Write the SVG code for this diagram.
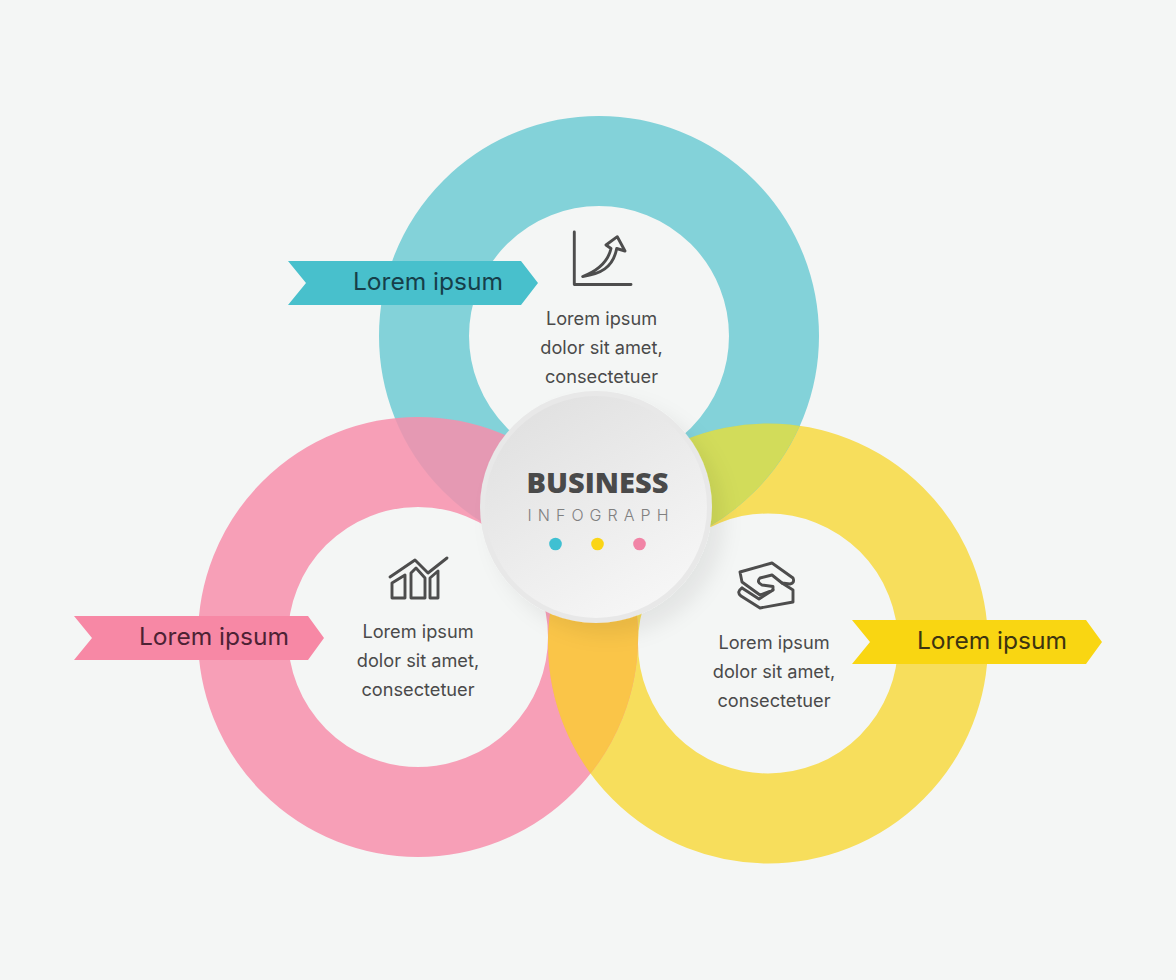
<svg xmlns="http://www.w3.org/2000/svg" width="1176" height="980" viewBox="0 0 1176 980">
<style>
.ring{fill:none;stroke-width:90}
.label{font-family:"Inter","Liberation Sans",sans-serif;font-size:24px;font-weight:400;text-anchor:middle}
.body{font-family:"Inter","Liberation Sans",sans-serif;font-size:18.2px;fill:#4a4a4a;text-anchor:middle}
.icon{fill:none;stroke:#4d4d4d;stroke-width:2.9;stroke-linejoin:round;stroke-linecap:round}
</style>
<defs>
<linearGradient id="disc" x1="0.2" y1="0.05" x2="0.75" y2="0.95">
<stop offset="0" stop-color="#e1e1e1"/><stop offset="1" stop-color="#f6f6f6"/>
</linearGradient>
<filter id="shadow" x="-20%" y="-20%" width="150%" height="150%">
<feDropShadow dx="12" dy="12" stdDeviation="10" flood-color="#000" flood-opacity="0.07"/>
</filter>
<clipPath id="clip-yellow"><path clip-rule="evenodd" d="M548,643.500a220,220 0 1,0 440,0a220,220 0 1,0 -440,0ZM638,643.500a130,130 0 1,0 260,0a130,130 0 1,0 -260,0Z"/></clipPath>
</defs>
<rect width="1176" height="980" fill="#f4f6f5"/>
<g id="rings">
<circle id="ring-yellow" class="ring" cx="768" cy="643.500" r="175" stroke="#f7de5c"/>
<circle id="ring-teal" class="ring" cx="599" cy="336" r="175" stroke="#6fcbd4" stroke-opacity="0.85"/>
<circle id="ring-pink" class="ring" cx="418" cy="637" r="175" stroke="#f78fab" stroke-opacity="0.85"/>
<circle id="overlap-teal-yellow" class="ring" cx="599" cy="336" r="175" stroke="#d2dc5a" clip-path="url(#clip-yellow)"/>
<circle id="overlap-pink-yellow" class="ring" cx="418" cy="637" r="175" stroke="#fac548" clip-path="url(#clip-yellow)"/>
</g>
<g id="connectors"/>
<g id="center" filter="url(#shadow)">
<circle cx="596" cy="507" r="116" fill="#e8e8e8"/>
<circle cx="596" cy="507" r="111" fill="url(#disc)"/>
</g>
<g id="center-text">
<text x="597.5" y="493" font-family="'Open Sans','Liberation Sans',sans-serif" font-size="29" font-weight="800" fill="#4a4a4a" text-anchor="middle" textLength="142" lengthAdjust="spacingAndGlyphs">BUSINESS</text>
<text x="598" y="521" font-family="'Inter','Liberation Sans',sans-serif" font-size="16" font-weight="300" fill="#808080" text-anchor="middle" textLength="141">INFOGRAPH</text>
<circle cx="555.5" cy="544" r="6.3" fill="#3fc0d2"/>
<circle cx="597.5" cy="544" r="6.3" fill="#fbd516"/>
<circle cx="639.5" cy="544" r="6.3" fill="#f184a6"/>
</g>
<g id="node-teal">
<polygon points="288,261 521,261 538,283 521,305 288,305 306,283" fill="#48c0cc"/>
<text class="label" x="428" y="290" fill="#163f4a" textLength="150" lengthAdjust="spacingAndGlyphs">Lorem ipsum</text>
<g class="icon">
<path d="M574.3,232V284.500H631"/>
<path d="M582.700,276.500C600,274 613,268 616.700,248.500L625,251L617.300,236.700L606,245L611,248.500C608,262 597,271 582.700,276.500Z"/>
</g>
<text class="body" x="601.500" y="324.500">Lorem ipsum</text>
<text class="body" x="601.500" y="353.500">dolor sit amet,</text>
<text class="body" x="601.500" y="382.500">consectetuer</text>
</g>
<g id="node-pink">
<polygon points="74,616 308,616 324,638 308,660 74,660 92,638" fill="#f788a5"/>
<text class="label" x="214" y="645" fill="#4d2234" textLength="150" lengthAdjust="spacingAndGlyphs">Lorem ipsum</text>
<g class="icon">
<path d="M390,577L415,560L428,573L447,558"/>
<path d="M392,598V583L405,575V598Z"/>
<path d="M411,598V573L416,568L425,578V598Z"/>
<path d="M430,598V578L438,571V598Z"/>
</g>
<text class="body" x="418" y="638">Lorem ipsum</text>
<text class="body" x="418" y="667">dolor sit amet,</text>
<text class="body" x="418" y="696">consectetuer</text>
</g>
<g id="node-yellow">
<polygon points="852,620 1086,620 1102,642 1086,664 852,664 870,642" fill="#f9d612"/>
<text class="label" x="992" y="649" fill="#3d3410" textLength="150" lengthAdjust="spacingAndGlyphs">Lorem ipsum</text>
<g class="icon">
<path d="M740,572L772,563L793,578Q795,583 790,584L782,583L772,575L760,578Q756,582 762,585L773,586.500V590L760,595L742,582Z"/>
<path d="M742,588Q736,592 741,596L760,608L793,602V590L782,583"/>
<path d="M742,588L759,599L773,590"/>
</g>
<text class="body" x="774" y="649">Lorem ipsum</text>
<text class="body" x="774" y="678">dolor sit amet,</text>
<text class="body" x="774" y="707">consectetuer</text>
</g>
</svg>
